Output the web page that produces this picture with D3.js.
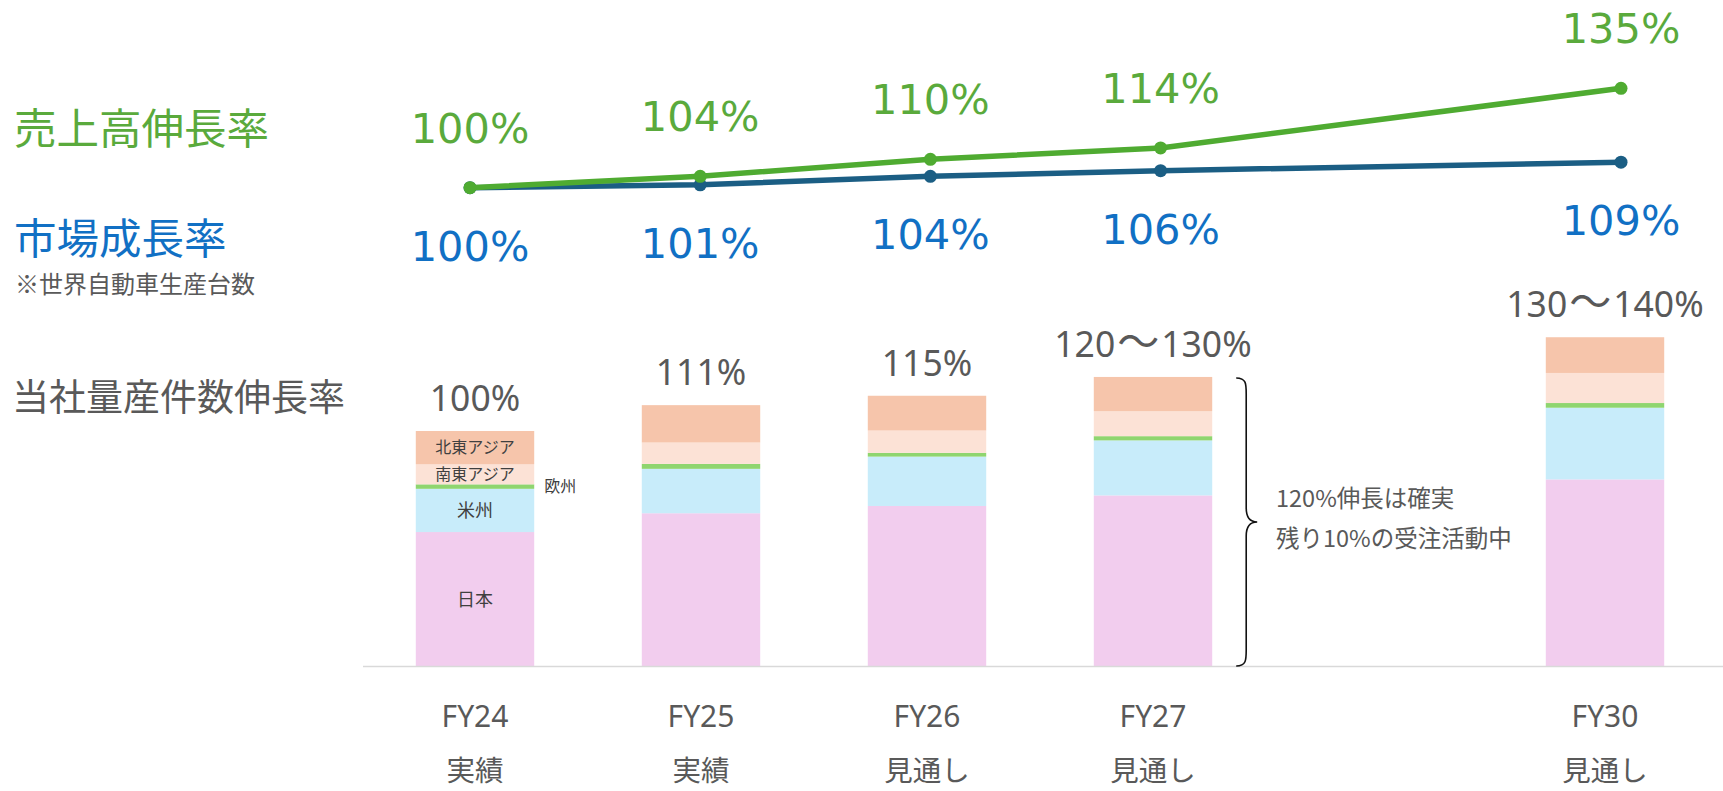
<!DOCTYPE html>
<html>
<head>
<meta charset="utf-8">
<script src="https://cdn.jsdelivr.net/npm/d3@7/dist/d3.min.js"></script>
<style>
  html, body { margin: 0; padding: 0; background: #fff; }
  svg { display: block; }
</style>
</head>
<body>
<svg id="chart" width="1723" height="791"></svg>
<script>
// Fiscal-year slots; the empty slot leaves room between FY27 and FY30
const slots = ["FY24", "FY25", "FY26", "FY27", "", "FY30"];
const years = ["FY24", "FY25", "FY26", "FY27", "FY30"];
const yearNotes = ["実績", "実績", "見通し", "見通し", "見通し"];

// Sales growth and market growth (index, FY24 = 100)
const salesGrowth = [100, 104, 110, 114, 135];
const marketGrowth = [100, 101, 104, 106, 109];

// Mass-production projects by region (index, FY24 total = 100)
const regions = ["日本", "米州", "欧州", "南東アジア", "北東アジア"];
const japan    = [57.0, 65.0, 68.1, 72.6, 79.4];
const americas = [18.4, 18.9, 21.0, 23.4, 30.5];
const europe   = [1.9, 2.1, 1.6, 1.8, 2.0];
const seAsia   = [8.5, 9.1, 9.5, 10.6, 12.8];
const neAsia   = [14.2, 15.9, 14.8, 14.6, 15.2];
const barLabels = ["100%", "111%", "115%", "120〜130%", "130〜140%"];

const regionColors = ["#f2cdee", "#c8ecfa", "#8fd56f", "#fce2d6", "#f6c5ab"];

const svg = d3.select("#chart");
const CJK = "'Noto Sans CJK JP', 'Noto Sans', sans-serif";
const LATIN = "'Noto Sans', 'Noto Sans CJK JP', sans-serif";
const GRAY = "#595959";

// ---- Left-hand titles ----
svg.append("text").attr("x", 14).attr("y", 144)
  .attr("font-family", CJK).attr("font-size", 42.5).attr("fill", "#5aaa3c")
  .text("売上高伸長率");
svg.append("text").attr("x", 14).attr("y", 254)
  .attr("font-family", CJK).attr("font-size", 42.5).attr("fill", "#1170c4")
  .text("市場成長率");
svg.append("text").attr("x", 15).attr("y", 293)
  .attr("font-family", CJK).attr("font-size", 24).attr("fill", GRAY)
  .text("※世界自動車生産台数");
svg.append("text").attr("x", 12).attr("y", 411)
  .attr("font-family", CJK).attr("font-size", 37).attr("fill", GRAY)
  .text("当社量産件数伸長率");

// ---- Stacked bars ----
const baseY = 666;
const x = d3.scaleBand().domain(slots).range([362, 1718])
  .paddingInner(0.476).paddingOuter(0.238);
const y = d3.scaleLinear().domain([0, 140]).range([baseY, baseY - 140 * 2.35]);

const rows = years.map((yr, i) => ({
  year: yr,
  "日本": japan[i], "米州": americas[i], "欧州": europe[i],
  "南東アジア": seAsia[i], "北東アジア": neAsia[i]
}));
const stacked = d3.stack().keys(regions)(rows);

const barG = svg.append("g");
stacked.forEach((layer, li) => {
  barG.selectAll(null).data(layer).join("rect")
    .attr("x", d => x(d.data.year))
    .attr("width", x.bandwidth())
    .attr("y", d => y(d[1]))
    .attr("height", d => y(d[0]) - y(d[1]))
    .attr("fill", regionColors[li]);
});

// Region names on the FY24 bar
const first = stacked.map(layer => layer[0]);
const cx0 = x("FY24") + x.bandwidth() / 2;
const segLabel = (li, size) => {
  const d = first[li];
  svg.append("text")
    .attr("x", cx0).attr("y", (y(d[0]) + y(d[1])) / 2)
    .attr("dy", "0.36em").attr("text-anchor", "middle")
    .attr("font-family", CJK).attr("font-size", size).attr("fill", "#404040")
    .text(regions[li]);
};
segLabel(0, 18);
segLabel(1, 18);
segLabel(3, 16);
segLabel(4, 16);
// Europe is too thin to hold its name, so it sits beside the bar
svg.append("text")
  .attr("x", x("FY24") + x.bandwidth() + 10)
  .attr("y", (y(first[2][0]) + y(first[2][1])) / 2)
  .attr("dy", "0.36em")
  .attr("font-family", CJK).attr("font-size", 16).attr("fill", "#404040")
  .text(regions[2]);

// Totals above the bars; a range label gets a wider wave dash
rows.forEach((r, i) => {
  const top = d3.sum(regions, k => r[k]);
  const t = svg.append("text")
    .attr("x", x(r.year) + x.bandwidth() / 2)
    .attr("y", y(top) - 20)
    .attr("text-anchor", "middle")
    .attr("font-family", LATIN).attr("font-size", 35.5).attr("fill", GRAY);
  const parts = barLabels[i].split("〜");
  if (parts.length === 2) {
    t.append("tspan").text(parts[0]);
    t.append("tspan").attr("dx", 2).attr("font-size", 42).text("〜");
    t.append("tspan").attr("dx", 2).text(parts[1]);
  } else {
    t.text(barLabels[i]);
  }
});

// Baseline
svg.append("line")
  .attr("x1", 363).attr("x2", 1723).attr("y1", baseY + 0.5).attr("y2", baseY + 0.5)
  .attr("stroke", "#d9d9d9").attr("stroke-width", 1.6);

// Category labels
years.forEach((yr, i) => {
  const cx = x(yr) + x.bandwidth() / 2;
  svg.append("text").attr("x", cx).attr("y", 727)
    .attr("text-anchor", "middle")
    .attr("font-family", LATIN).attr("font-size", 30).attr("fill", GRAY)
    .text(yr);
  svg.append("text").attr("x", cx).attr("y", 781)
    .attr("text-anchor", "middle")
    .attr("font-family", CJK).attr("font-size", 28.5).attr("fill", GRAY)
    .text(yearNotes[i]);
});

// Brace beside FY27 with the note
const bx = x("FY27") + x.bandwidth();
const bTop = y(d3.sum(regions, k => rows[3][k])) + 1;
const mid = (bTop + baseY) / 2;
const braceX = bx + 34;
svg.append("path")
  .attr("d", `M${bx + 24},${bTop}
    C${braceX},${bTop} ${braceX},${bTop + 6} ${braceX},${bTop + 16}
    L${braceX},${mid - 14}
    C${braceX},${mid - 4} ${braceX + 4},${mid} ${braceX + 11},${mid}
    C${braceX + 4},${mid} ${braceX},${mid + 4} ${braceX},${mid + 14}
    L${braceX},${baseY - 16}
    C${braceX},${baseY - 6} ${braceX},${baseY} ${bx + 24},${baseY}`)
  .attr("fill", "none").attr("stroke", "#111").attr("stroke-width", 1.6);

const noteG = svg.append("g")
  .attr("font-family", CJK).attr("font-size", 23.5).attr("fill", GRAY);
noteG.append("text").attr("x", 1276).attr("y", 507).text("120%伸長は確実");
noteG.append("text").attr("x", 1276).attr("y", 547).text("残り10%の受注活動中");

// ---- Growth lines ----
const lx = d3.scalePoint().domain(slots).range([470, 1621]);
const ly = d3.scaleLinear().domain([100, 135]).range([187.7, 88.3]);

const drawSeries = (vals, lineColor, labelColor, labelDy) => {
  const pts = years.map((yr, i) => [lx(yr), ly(vals[i])]);
  svg.append("path")
    .attr("d", d3.line()(pts))
    .attr("fill", "none").attr("stroke", lineColor)
    .attr("stroke-width", 5.5).attr("stroke-linejoin", "round");
  svg.append("g").selectAll("circle").data(pts).join("circle")
    .attr("cx", d => d[0]).attr("cy", d => d[1]).attr("r", 6.5)
    .attr("fill", lineColor);
  svg.append("g").selectAll("text").data(pts).join("text")
    .attr("x", d => d[0]).attr("y", d => d[1] + labelDy)
    .attr("text-anchor", "middle")
    .attr("font-family", "'DejaVu Sans', sans-serif").attr("font-size", 41.5)
    .attr("fill", labelColor)
    .text((d, i) => vals[i] + "%");
};
drawSeries(marketGrowth, "#1b5e84", "#1170c4", 73);
drawSeries(salesGrowth, "#4fab31", "#5aaa3c", -45);
</script>
</body>
</html>
